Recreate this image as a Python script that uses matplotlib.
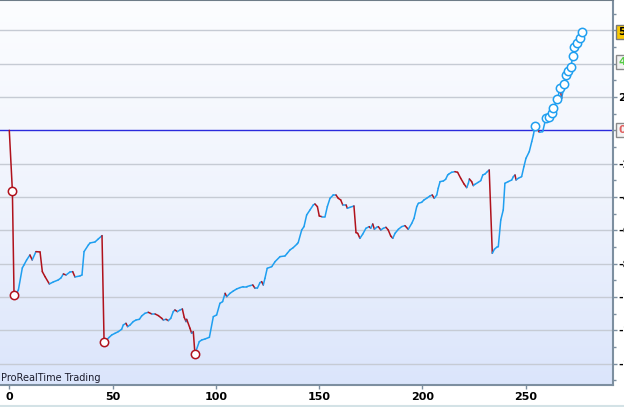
import numpy as np
import matplotlib
matplotlib.use("Agg")
import matplotlib.pyplot as plt
from matplotlib.collections import LineCollection
from matplotlib.colors import LinearSegmentedColormap
from matplotlib.lines import Line2D
import matplotlib.transforms as mtransforms

# ---- data (bar index, equity value) ----
bars = [0, 1.5, 2.3, 3.6, 4.4, 6.3, 7.1, 8.4, 10.0, 11.1, 12.9, 14.9, 16.0, 17.3, 19.4, 21.3,
        23.7, 25.0, 26.2, 27.5, 29.4, 30.7, 31.8, 34.2, 35.2, 36.2, 38.3, 39.1, 41.5, 43.1, 44.9,
        45.9,
        48.4, 49.6, 51.2, 52.8, 54.4, 55.2, 56.5, 57.3, 58.5, 60.0, 61.4, 63.0, 64.1, 65.7, 67.3,
        69.0, 70.6, 72.2, 73.8, 74.6, 75.9, 77.0, 78.2, 79.4, 80.2, 81.4, 82.7, 83.8, 84.7, 85.6,
        85.9, 87.5, 88.3, 89.1, 89.9,
        92.0, 93.2, 94.8, 96.9, 98.8, 100.4, 102.0, 103.3, 104.5, 105.3, 106.9, 108.5, 110.1,
        111.7, 113.3, 115.0, 116.6, 117.9, 119.0, 120.1, 121.4, 122.2, 123.0, 123.8, 124.9,
        127.1, 128.7, 131.1, 133.5, 134.6, 135.9, 137.5, 139.2, 139.9, 141.6, 142.7, 144.0,
        145.6, 147.2, 148.0, 149.2, 150.1, 151.3, 152.9, 154.0, 155.3, 156.9, 158.2, 159.3,
        160.5, 161.5, 163.1, 163.7, 165.0, 166.9, 167.9, 168.7, 169.8, 171.1, 172.7, 174.3,
        175.0, 176.0, 176.8, 177.9, 178.7, 179.9, 181.1, 182.4, 183.5, 184.7, 185.7, 186.8,
        188.4, 190.0, 191.6, 193.2, 194.9, 196.0, 197.3, 198.1, 199.7, 200.8, 202.1, 203.7,
        204.8, 205.8, 207.0, 207.7, 208.6, 210.2, 211.3, 212.3, 212.9, 214.2, 215.8, 217.1,
        218.6, 220.2, 221.5, 222.3, 222.8, 223.9, 224.7, 225.5, 227.1, 228.3, 229.3, 230.4,
        231.5, 232.4, 233.9, 234.9, 236.0, 236.8, 238.0, 239.2, 240.0, 241.6, 243.3, 244.1,
        244.9, 245.4, 246.5, 248.1, 249.2, 250.2, 251.8, 253.0, 253.8, 254.6, 256.7, 258.3,
        259.9, 261.5, 262.6, 263.4, 265.4, 266.7, 267.5, 268.8, 269.6, 270.7, 271.9, 272.9,
        273.6, 274.8, 276.4, 277.5]

equity = [0, -3640, -9880, -9760, -9580, -8260, -8080, -7780, -7480, -7780, -7280, -7300, -8480,
          -8780, -9220, -9100, -8980, -8860, -8620, -8680, -8500, -8480, -8800, -8740, -8680,
          -7280, -6880, -6760, -6700, -6520, -6320,
          -12720,
          -12420, -12280, -12180, -12080, -11940, -11680, -11580, -11780, -11680, -11480, -11380,
          -11340, -11140, -10980, -10920, -11020, -11020, -11120, -11280, -11380, -11340, -11420,
          -11280, -10880, -10780, -10880, -10780, -10720, -11220, -11480, -11340, -11880, -12180,
          -12080, -13420,
          -12680, -12580, -12520, -12420, -11180, -11080, -10380, -10280, -9780, -9980, -9780,
          -9640, -9520, -9440, -9380, -9380, -9320, -9280, -9480, -9480, -9140, -9080, -9280,
          -8880, -8280, -8180, -7880, -7580, -7540, -7380, -7180, -7040, -6840, -6740, -5980,
          -5780, -5080, -4780, -4480, -4420, -4580, -5140, -5180, -5180, -4580, -4080, -3880,
          -3880, -4080, -4180, -4480, -4480, -4680, -4620, -4540, -6140, -6180, -6480, -6240,
          -5880, -5780, -5880, -5620, -5940, -5820, -5780, -5980, -5880, -5820, -5980, -6340,
          -6480, -6180, -5940, -5780, -5720, -5940, -5580, -5280, -4580, -4380, -4320, -4180,
          -4080, -3940, -3880, -4080, -3880, -3480, -3080, -3040, -2940, -2680, -2620, -2520,
          -2480, -2520, -2880, -3220, -3440, -3180, -2920, -3080, -3320, -3240, -3120, -3020,
          -2680, -2620, -2480, -2380, -7380, -7140, -7020, -6980, -5380, -4780, -3180, -3080,
          -2980, -2780, -2680, -2980, -2880, -2780, -2180, -1680, -1280, -680, -280, 280, -120,
          -80, 760, 800, 1020, 1320, 1860, 2520, 1920, 2780, 3320, 3560, 3780, 4460, 4980, 5220,
          5520, 5880]

xticks = [0, 50, 100, 150, 200, 250]
yticks = list(range(-14000, 6001, 2000))
yminor = list(range(-15000, 7001, 2000))
# labels hidden behind the value boxes (6000, 4000, 0) are left blank
ytick_labels = ["" if t in (6000, 4000, 0) else str(t) for t in yticks]
last_value_label = "5880"
green_value_label = "4070"
zero_label = "0"

RED = "#b0121c"
BLUE = "#1f9ff0"
AXC = "#7d8fa0"

fig = plt.figure(figsize=(6.24, 4.07), dpi=100)
fig.patch.set_facecolor("white")
ax = fig.add_axes([0, 22 / 407, 612.7 / 624, 385 / 407])

x0, x1 = -4.5, 292.2
y0, y1 = -15282, 7818

grad = np.linspace(0, 1, 256).reshape(-1, 1)
cmap = LinearSegmentedColormap.from_list("bg", ["#fcfdff", "#f0f4fd", "#dbe5fb"])
ax.imshow(grad, extent=[x0, x1, y0, y1], origin="upper", aspect="auto", cmap=cmap, zorder=0)
ax.set_xlim(x0, x1)
ax.set_ylim(y0, y1)

for t in yticks:
    if t == 0:
        continue
    ax.axhline(t, color="#c6cbd4", lw=1.0, zorder=1)
ax.axhline(0, color="#2b2bdc", lw=1.0, zorder=2)

pts = np.column_stack([bars, equity])
segs = np.stack([pts[:-1], pts[1:]], axis=1)
diff = np.diff(np.array(equity, dtype=float))
cols = [RED if d < 0 else BLUE for d in diff]
lc = LineCollection(segs, colors=cols, linewidths=1.1, zorder=3, capstyle="round", joinstyle="round")
ax.add_collection(lc)

# markers at new highs (blue) and new lows (red)
hi, lo = 0.0, 0.0
hx, hy, lx, ly = [], [], [], []
for b, v in zip(bars, equity):
    if v > hi:
        hi = v
        hx.append(b); hy.append(v)
    if v < lo:
        lo = v
        lx.append(b); ly.append(v)
ax.plot(hx, hy, "o", ms=6, mfc="white", mec=BLUE, mew=1.1, ls="none", zorder=4)
ax.plot(lx, ly, "o", ms=6, mfc="white", mec=RED, mew=1.1, ls="none", zorder=4)

# axes styling
ax.spines["left"].set_visible(False)
ax.spines["right"].set_color(AXC)
ax.spines["right"].set_linewidth(1.5)
ax.spines["bottom"].set_color(AXC)
ax.spines["bottom"].set_linewidth(1.5)
ax.spines["top"].set_color("#6e7c88")
ax.spines["top"].set_linewidth(1.5)

ax.set_xticks(xticks)
ax.set_xticklabels([str(t) for t in xticks], fontsize=8, fontweight="bold")
ax.yaxis.tick_right()
ax.set_yticks(yticks)
ax.set_yticklabels(ytick_labels, fontsize=8, fontweight="bold")
ax.set_yticks(yminor, minor=True)
ax.tick_params(axis="y", which="major", direction="out", length=3, width=1, color=AXC, pad=0.8)
ax.tick_params(axis="y", which="minor", direction="out", length=2.5, width=1, color=AXC)
ax.tick_params(axis="x", which="major", direction="out", length=3, width=1, color=AXC, pad=2)

tr = mtransforms.blended_transform_factory(ax.transAxes, ax.transData)
box_x = 1.009
ax.text(box_x, equity[-1], last_value_label, transform=tr, ha="left", va="center", fontsize=8,
        fontweight="bold", color="black", clip_on=False, zorder=10,
        bbox=dict(boxstyle="square,pad=0.18", fc="#f8c800", ec="#7a7a7a", lw=1))
ax.text(box_x, 4070, green_value_label, transform=tr, ha="left", va="center", fontsize=8,
        fontweight="bold", color="#55cc44", clip_on=False, zorder=10,
        bbox=dict(boxstyle="square,pad=0.18", fc="#f2f2f2", ec="#8a8a8a", lw=1))
ax.text(box_x, 0, zero_label, transform=tr, ha="left", va="center", fontsize=8,
        fontweight="bold", color="#e06060", clip_on=False, zorder=10,
        bbox=dict(boxstyle="square,pad=0.18", fc="#f4f4f4", ec="#8a8a8a", lw=1))

ax.text(0.001, 0.004, "ProRealTime Trading", transform=ax.transAxes, ha="left", va="bottom",
        fontsize=7, color="#1c1c2c", zorder=10)

fig.add_artist(Line2D([0, 1], [1.5 / 407, 1.5 / 407], color="#d3e2e6", lw=1.5))

fig.savefig("out.png", dpi=100)
